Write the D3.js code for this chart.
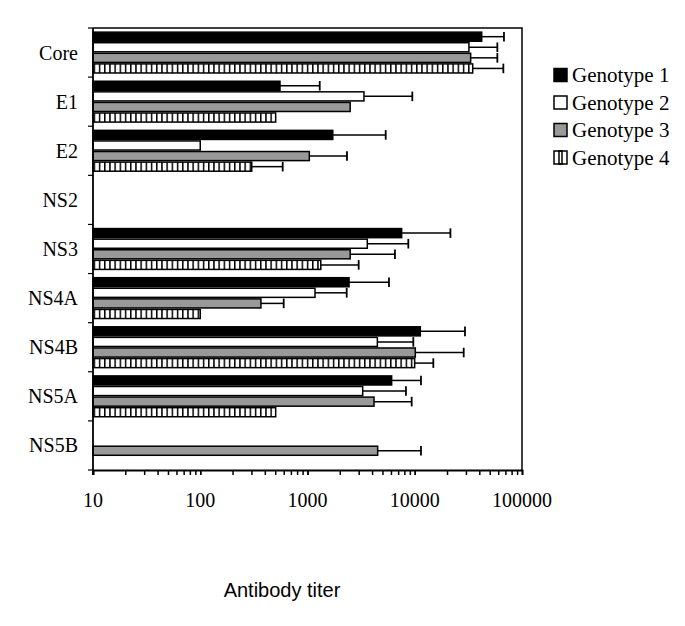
<!DOCTYPE html>
<html lang="en">

<head>
    <script src="https://cdn.jsdelivr.net/npm/d3@7"></script>
    <style>
        body { margin: 0; background: #fff; }
    </style>
</head>

<body>
    <div class="chart"></div>

    <script>
        // Data (antibody titers, log scale)
        const proteins = ["Core", "E1", "E2", "NS2", "NS3", "NS4A", "NS4B", "NS5A", "NS5B"];
        const genotypes = ["Genotype 1", "Genotype 2", "Genotype 3", "Genotype 4"];

        // bar value per protein, null = no bar
        const geno1 = [42100, 554, 1720, null, 7550, 2440, 11270, 6090, null];
        const geno2 = [32000, 3360, 100, null, 3610, 1175, 4480, 3270, null];
        const geno3 = [33200, 2500, 1040, null, 2500, 368, 10120, 4170, 4510];
        const geno4 = [34700, 505, 302, null, 1330, 100, 9980, 505, null];

        // upper end of error bar, null = none drawn
        const geno1Err = [67900, 1300, 5360, null, 21500, 5750, 29400, 11430, null];
        const geno2Err = [58900, 9490, null, null, 8710, 2320, 9700, 8280, null];
        const geno3Err = [58900, null, 2335, null, 6540, 600, 28600, 9360, 11430];
        const geno4Err = [67000, null, 587, null, 3000, null, 14900, null, null];

        const xTicks = [10, 100, 1000, 10000, 100000];

        const values = [geno1, geno2, geno3, geno4];
        const errs = [geno1Err, geno2Err, geno3Err, geno4Err];

        // Set Dimensions
        const width = 685;
        const height = 626;
        const plotLeft = 93, plotRight = 522, plotTop = 28, plotBottom = 470;

        const svg = d3.select(".chart")
            .append("svg")
            .attr("width", width)
            .attr("height", height);

        // hatch pattern for genotype 4
        const defs = svg.append("defs");
        const pat = defs.append("pattern")
            .attr("id", "hatch")
            .attr("patternUnits", "userSpaceOnUse")
            .attr("width", 5.2).attr("height", 10);
        pat.append("rect").attr("width", 5.2).attr("height", 10).attr("fill", "#fff");
        pat.append("rect").attr("x", 0).attr("width", 1.5).attr("height", 10).attr("fill", "#000");

        const fills = ["#000", "#fff", "#999", "url(#hatch)"];

        // scales
        const x = d3.scaleLog().domain([10, 100000]).range([plotLeft, plotRight]);
        const y = d3.scaleBand().domain(proteins).range([plotTop, plotBottom]);
        const yInner = d3.scaleBand().domain(genotypes)
            .range([0, y.bandwidth()]).paddingOuter(0.32);

        // bars and error bars
        genotypes.forEach((g, gi) => {
            const rows = proteins.map((p, i) => ({ p: p, v: values[gi][i], e: errs[gi][i] }));

            // error bar first so the bar sits on top
            const withErr = rows.filter(d => d.v != null && d.e != null);
            const h = yInner.bandwidth();
            svg.selectAll(".err" + gi)
                .data(withErr)
                .enter()
                .append("line")
                .attr("class", "err" + gi)
                .attr("x1", d => x(d.v)).attr("x2", d => x(d.e))
                .attr("y1", d => y(d.p) + yInner(g) + h / 2)
                .attr("y2", d => y(d.p) + yInner(g) + h / 2)
                .attr("stroke", "#000").attr("stroke-width", 1.5);
            svg.selectAll(".cap" + gi)
                .data(withErr)
                .enter()
                .append("line")
                .attr("class", "cap" + gi)
                .attr("x1", d => x(d.e)).attr("x2", d => x(d.e))
                .attr("y1", d => y(d.p) + yInner(g) + 0.5)
                .attr("y2", d => y(d.p) + yInner(g) + h - 0.5)
                .attr("stroke", "#000").attr("stroke-width", 1.8);

            svg.selectAll(".bar" + gi)
                .data(rows.filter(d => d.v != null))
                .enter()
                .append("rect")
                .attr("class", "bar" + gi)
                .attr("x", x(10))
                .attr("y", d => y(d.p) + yInner(g) + 0.75)
                .attr("width", d => x(d.v) - x(10))
                .attr("height", h - 1.5)
                .attr("fill", fills[gi])
                .attr("stroke", "#000").attr("stroke-width", 1.5);
        });

        // frame: top and right border
        svg.append("path")
            .attr("d", `M${plotLeft},${plotTop}H${plotRight}V${plotBottom}`)
            .attr("fill", "none").attr("stroke", "#000").attr("stroke-width", 1.5);

        // x axis with minor ticks
        const minor = [];
        for (let d = 10; d < 100000; d *= 10) {
            for (let k = 1; k <= 10; k++) minor.push(d * k);
        }
        const xAxis = svg.append("g")
            .attr("transform", `translate(0,${plotBottom})`)
            .call(d3.axisBottom(x).tickValues(minor).tickSize(5).tickFormat(""));
        xAxis.select(".domain").attr("stroke-width", 1.8);
        xAxis.selectAll(".tick line").attr("stroke-width", 1.5);

        svg.selectAll(".xlab")
            .data(xTicks)
            .enter()
            .append("text")
            .attr("class", "xlab")
            .attr("x", d => x(d))
            .attr("y", plotBottom + 37)
            .attr("text-anchor", "middle")
            .attr("font-family", "Liberation Serif")
            .attr("font-size", 20)
            .text(d => d);

        // y axis: ticks at band boundaries
        const yBounds = proteins.map(p => y(p)).concat([plotBottom]);
        svg.append("line")
            .attr("x1", plotLeft).attr("x2", plotLeft).attr("y1", plotTop).attr("y2", plotBottom + 5)
            .attr("stroke", "#000").attr("stroke-width", 1.8);
        svg.selectAll(".ytick")
            .data(yBounds)
            .enter()
            .append("line")
            .attr("class", "ytick")
            .attr("x1", plotLeft - 5).attr("x2", plotLeft)
            .attr("y1", d => d).attr("y2", d => d)
            .attr("stroke", "#000").attr("stroke-width", 1.2);

        svg.selectAll(".ylab")
            .data(proteins)
            .enter()
            .append("text")
            .attr("class", "ylab")
            .attr("x", plotLeft - 15)
            .attr("y", d => y(d) + y.bandwidth() / 2)
            .attr("dy", "0.35em")
            .attr("text-anchor", "end")
            .attr("font-family", "Liberation Serif")
            .attr("font-size", 20)
            .text(d => d);

        // axis title
        svg.append("text")
            .attr("x", 282).attr("y", 597)
            .attr("text-anchor", "middle")
            .attr("font-family", "Liberation Sans")
            .attr("font-size", 20)
            .text("Antibody titer");

        // legend
        const legend = svg.selectAll(".legend")
            .data(genotypes)
            .enter()
            .append("g")
            .attr("class", "legend")
            .attr("transform", (d, i) => `translate(554,${75 + i * 27.5})`);
        legend.append("rect")
            .attr("x", 0).attr("y", -6.5).attr("width", 13).attr("height", 13)
            .attr("fill", (d, i) => i == 3 ? "#fff" : fills[i])
            .attr("stroke", "#000").attr("stroke-width", 1.5);
        // genotype 4 legend box has a single divider
        legend.filter((d, i) => i == 3).append("rect")
            .attr("x", 5).attr("y", -6.5).attr("width", 3).attr("height", 13)
            .attr("fill", "none").attr("stroke", "#000").attr("stroke-width", 1.5);
        legend.append("text")
            .attr("x", 18).attr("y", 0).attr("dy", "0.35em")
            .attr("font-family", "Liberation Serif")
            .attr("font-size", 21)
            .text(d => d);
    </script>
</body>

</html>
